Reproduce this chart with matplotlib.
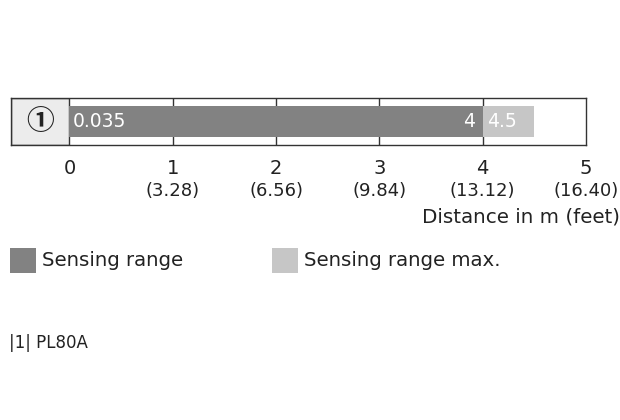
import matplotlib
matplotlib.use("Agg")
import matplotlib.pyplot as plt
from matplotlib.patches import Rectangle

plt.rcParams["font.family"] = ["DejaVu Sans"]

# --- data ---
range_start = 0.035
range_end = 4.0
range_max = 4.5
ticks_m = [0, 1, 2, 3, 4, 5]
ticks_ft = ["", "(3.28)", "(6.56)", "(9.84)", "(13.12)", "(16.40)"]
sensor_label = "\u2460"
legend_labels = ["Sensing range", "Sensing range max."]
caption = "|1| PL80A"

DARK = "#828282"
LIGHT = "#c6c6c6"
CELL = "#ececec"
TEXT = "#222222"

W, H = 620, 420
fig = plt.figure(figsize=(W / 100, H / 100), dpi=100)

x0 = -0.565
ax = fig.add_axes([11 / W, (H - 145) / H, (586 - 11) / W, 47 / H])
ax.set_xlim(x0, 5.0)
ax.set_ylim(0, 1)
for s in ax.spines.values():
    s.set_color("#333333")
    s.set_linewidth(1.0)
ax.set_yticks([])
ax.set_xticks([])

# label cell
ax.add_patch(Rectangle((x0, 0), -x0, 1, facecolor=CELL, edgecolor="#333333", lw=1.0, zorder=1))
ax.text(x0 / 2, 0.5, sensor_label, ha="center", va="center", fontsize=20, fontweight="bold",
        family=["Noto Sans CJK JP", "DejaVu Sans"], color=TEXT)

# grid lines
for t in ticks_m[1:-1]:
    ax.axvline(t, color="#333333", lw=1.0, zorder=1)

# bars
ax.barh(0.5, range_end - 0, left=0, height=0.64, color=DARK, zorder=2)
ax.barh(0.5, range_max - range_end, left=range_end, height=0.64, color=LIGHT, zorder=2)

ax.text(0.03, 0.5, f"{range_start}", ha="left", va="center", color="white",
        fontsize=13.5, zorder=3)
ax.text(range_end - 0.075, 0.5, f"{range_end:g}", ha="right", va="center", color="white",
        fontsize=13.5, zorder=3)
ax.text(range_end + 0.045, 0.5, f"{range_max:g}", ha="left", va="center", color="white",
        fontsize=13.5, zorder=3)

# tick labels
for t, ft in zip(ticks_m, ticks_ft):
    ax.text(t, -0.3, str(t), ha="center", va="top", fontsize=14, color=TEXT,
            transform=ax.get_xaxis_transform())
    if ft:
        ax.text(t, -0.78, ft, ha="center", va="top", fontsize=13, color=TEXT,
                transform=ax.get_xaxis_transform())

fig.text(620 / W, 1 - 217 / H, "Distance in m (feet)", ha="right", va="center",
         fontsize=14.3, color=TEXT)

# legend
for (px, col), lab in zip([(10, DARK), (272, LIGHT)], legend_labels):
    fig.patches.append(Rectangle((px / W, 1 - 273 / H), 26 / W, 25 / H,
                                 facecolor=col, edgecolor="none", transform=fig.transFigure))
    fig.text((px + 32) / W, 1 - 261 / H, lab, ha="left", va="center",
             fontsize=14.2, color=TEXT)

fig.text(9 / W, 1 - 343 / H, caption, ha="left", va="center", fontsize=12, color=TEXT)

fig.savefig("out.png", dpi=100, facecolor="white")
